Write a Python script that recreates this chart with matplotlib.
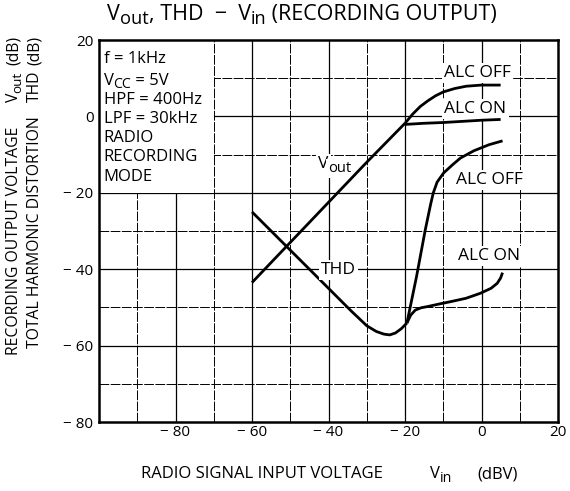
import matplotlib
matplotlib.use("Agg")
import matplotlib.pyplot as plt
from matplotlib.patches import Rectangle
from matplotlib.text import Annotation

plt.rcParams['font.family'] = ['Open Sans', 'DejaVu Sans']

# Data
vout_lin_x = [-60, -50, -40, -30, -20]
vout_lin_y = [-43.5, -33.0, -22.5, -12.0, -1.8]

vout_off_x = [-20, -18, -16, -14, -12, -10, -7, -4, 0, 5]
vout_off_y = [-1.8, 0.6, 2.6, 4.1, 5.4, 6.4, 7.3, 7.9, 8.2, 8.2]

vout_on_x = [-20, -15, -10, -5, 0, 5]
vout_on_y = [-2.1, -1.8, -1.6, -1.3, -1.0, -0.8]

thd_x = [-60, -50, -40, -34, -30, -27.5, -25.5, -24, -22.5, -21, -19.5]
thd_y = [-25, -35, -45, -51, -54.8, -56.3, -57.0, -57.2, -56.7, -55.6, -54.1]

thd_off_x = [-19.5, -17, -14.7, -13.3, -12.6, -11.6, -9.9, -7.5, -5.5, -2, 2, 5.5]
thd_off_y = [-54.1, -42, -29.7, -23, -20, -17.2, -14.8, -12.6, -10.9, -9.0, -7.4, -6.4]

thd_on_x = [-19.5, -18.5, -17.3, -15.8, -14.2, -11, -8.1, -4, -0.3, 2.5, 4.1, 5.0, 5.5]
thd_on_y = [-54.1, -52.0, -50.7, -50.1, -49.8, -49.1, -48.5, -47.6, -46.3, -45.0, -43.7, -42.3, -40.9]

x_ticks = [-80, -60, -40, -20, 0, 20]
y_ticks = [20, 0, -20, -40, -60, -80]

SUB = 0.85     # subscript size factor
SHIFT = -0.2   # subscript baseline shift (em)

# conditions: list of pieces (text, is_subscript)
conditions = [
    [('f = 1kHz', False)],
    [('V', False), ('CC', True), (' = 5V', False)],
    [('HPF = 400Hz', False)],
    [('LPF = 30kHz', False)],
    [('RADIO', False)],
    [('RECORDING', False)],
    [('MODE', False)],
]

W, H = 570, 491
fig = plt.figure(figsize=(W / 100, H / 100), dpi=100)
ax = fig.add_axes([99 / W, 1 - 422 / H, (558 - 99) / W, (422 - 40) / H])
ax.set_xlim(-100, 20)
ax.set_ylim(-80, 20)


def rich(container, x, y, pieces, fs, coord, rotation=0, zorder=3, bbox=None):
    """Draw a run of text pieces, subscripts as lowered smaller text."""
    prev = None
    for s, is_sub in pieces:
        size = fs * SUB if is_sub else fs
        dy = SHIFT * fs if is_sub else 0.0
        if prev is None:
            xy, xyc = (x, y), coord
        elif rotation == 0:
            xy, xyc = (1, y), (prev, coord)
        else:
            xy, xyc = (x, 1), (coord, prev)
        off = (0, dy) if rotation == 0 else (-dy, 0)
        a = Annotation(s, xy=xy, xycoords=xyc, xytext=off, textcoords='offset points',
                       fontsize=size, rotation=rotation, rotation_mode='anchor',
                       ha='left', va='baseline', annotation_clip=False, zorder=zorder)
        if bbox is not None:
            a.set_bbox(bbox)
        container.add_artist(a)
        prev = a
    return prev


# grid
for gx in range(-90, 20, 10):
    major = gx % 20 == 0
    ax.axvline(gx, color='black', lw=0.9 if major else 0.7,
               ls='-' if major else (0, (10, 1.5)), zorder=1)
for gy in range(-70, 20, 10):
    major = gy % 20 == 0
    ax.axhline(gy, color='black', lw=0.9 if major else 0.7,
               ls='-' if major else (0, (10, 1.5)), zorder=1)

# white box behind the conditions
ax.add_patch(Rectangle((-100, -20), 30, 40, facecolor='white', edgecolor='none', zorder=2))

for xs, ys in [(vout_lin_x, vout_lin_y), (vout_off_x, vout_off_y), (vout_on_x, vout_on_y),
               (thd_x, thd_y), (thd_off_x, thd_off_y), (thd_on_x, thd_on_y)]:
    ax.plot(xs, ys, color='black', lw=2.0, solid_capstyle='butt',
            solid_joinstyle='round', zorder=4)

fs = 12.5
bb = dict(facecolor='white', edgecolor='none', pad=1.5)
ax.text(-1.1, 10.4, 'ALC OFF', fontsize=fs, ha='center', va='baseline', bbox=bb, zorder=3)
ax.text(-1.6, 0.8, 'ALC ON', fontsize=fs, ha='center', va='baseline', bbox=bb, zorder=3)
ax.text(2.1, -17.7, 'ALC OFF', fontsize=fs, ha='center', va='baseline', bbox=bb, zorder=3)
ax.text(1.9, -37.6, 'ALC ON', fontsize=fs, ha='center', va='baseline', bbox=bb, zorder=3)
ax.text(-37.4, -41.3, 'THD', fontsize=fs, ha='center', va='baseline', bbox=bb, zorder=5)
rich(ax, -42.7, -13.6, [('V', False), ('out', True)], fs, ax.transData, zorder=3, bbox=bb)

cfs = 12
base_y = [13.9] + [8.2 - 5.0 * i for i in range(len(conditions) - 1)]
for pieces, by in zip(conditions, base_y):
    rich(ax, -98.8, by, pieces, cfs, ax.transData, zorder=3)


def lab(v):
    return ('− %d' % abs(v)) if v < 0 else str(v)


ax.set_xticks(x_ticks)
ax.set_xticklabels([lab(v) for v in x_ticks], fontsize=11)
ax.set_yticks(y_ticks)
ax.set_yticklabels([lab(v) for v in y_ticks], fontsize=11)
ax.tick_params(axis='x', length=0, pad=2)
ax.tick_params(axis='y', length=0, pad=4)
for sp in ax.spines.values():
    sp.set_linewidth(1.8)
    sp.set_zorder(6)

ff = fig.transFigure
# title
rich(fig, 107 / W, 1 - 20 / H,
     [('V', False), ('out', True), (', THD  −  V', False), ('in', True), (' (RECORDING OUTPUT)', False)],
     15.5, ff)

# x axis label
afs = 12
xb = 1 - 478.5 / H
rich(fig, 141 / W, xb, [('RADIO SIGNAL INPUT VOLTAGE', False)], afs, ff)
rich(fig, 430 / W, xb, [('V', False), ('in', True)], afs, ff)
rich(fig, 477 / W, xb, [('(dBV)', False)], afs, ff)

# y axis label (two rotated lines)
yfs = 11.3
for bx, main, start, mid in [(18 / W, 'RECORDING OUTPUT VOLTAGE', 355, [('V', False), ('out', True)]),
                             (39 / W, 'TOTAL HARMONIC DISTORTION', 348, [('THD', False)])]:
    rich(fig, bx, 1 - start / H, [(main, False)], yfs, ff, rotation=90)
    rich(fig, bx, 1 - 102 / H, mid, yfs, ff, rotation=90)
    rich(fig, bx, 1 - 65 / H, [('(dB)', False)], yfs, ff, rotation=90)

fig.savefig('out.png', dpi=100, facecolor='white')
